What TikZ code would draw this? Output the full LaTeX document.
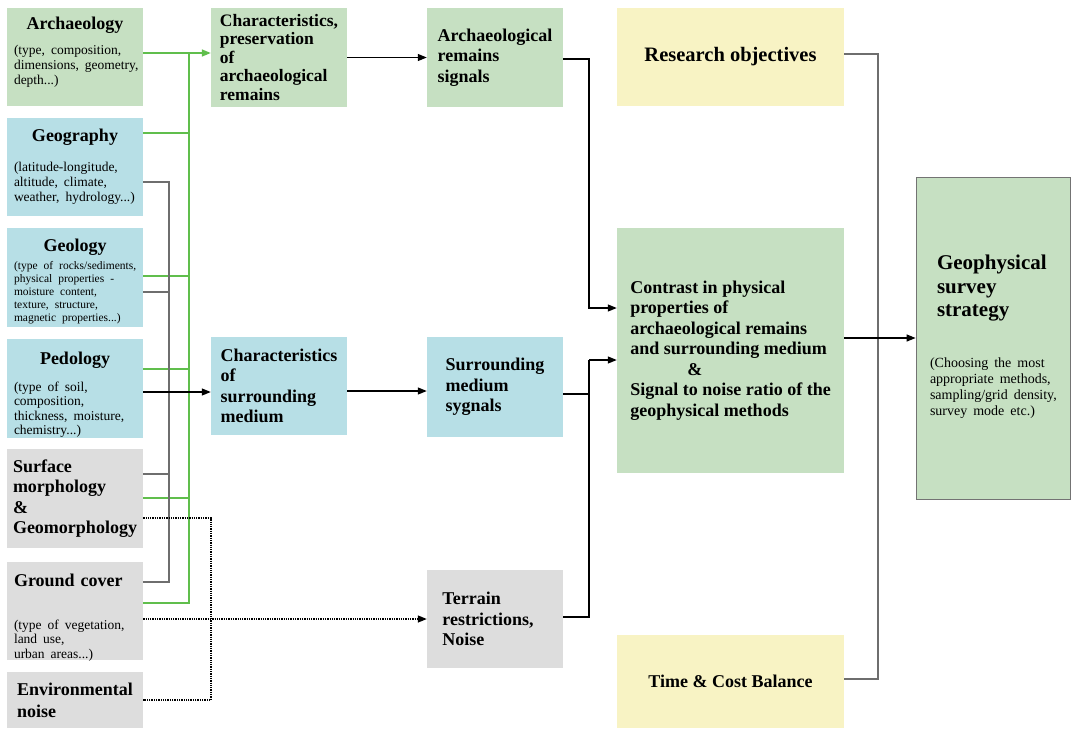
\documentclass[tikz,border=0pt]{standalone}
\usepackage{fontspec}
\setmainfont{Liberation Serif}
\usetikzlibrary{arrows.meta}
\definecolor{boxgreen}{RGB}{198,224,194}
\definecolor{boxblue}{RGB}{183,223,230}
\definecolor{boxgray}{RGB}{221,221,221}
\definecolor{boxyellow}{RGB}{248,243,196}
\definecolor{linegreen}{RGB}{96,190,76}
\definecolor{linegray}{RGB}{110,110,110}
\newcommand{\boxdetail}[3]{{\fontsize{#1}{#2}\selectfont\mdseries\begin{tabular}[t]{@{}l@{}}#3\end{tabular}\par}}

\begin{document}
\begin{tikzpicture}[x=1pt,y=-1pt,
  box/.style={rectangle,inner sep=0pt,align=left,font=\fontsize{18}{20.5}\selectfont\bfseries},
  leftbox/.style={box,minimum width=136pt,minimum height=98pt,text width=122pt,text height=14pt},
  midbox/.style={box,minimum width=136pt,minimum height=98pt},
  gline/.style={draw=linegreen,line width=1.5pt},
  kline/.style={draw=linegray,line width=1.3pt},
  aline/.style={draw=black,line width=1.2pt},
  dline/.style={draw=black,line width=1.3pt,densely dotted},
  arr/.style={-{Triangle[length=9pt,width=7pt]}}]
\useasboundingbox (0,0) rectangle (1071,729);

\node[leftbox,fill=boxgreen,text depth=70pt] (arch) at (75,57) {{\centering Archaeology\par}\vspace{10pt}\boxdetail{13.5}{15}{(type, composition,\\dimensions, geometry,\\depth...)}};
\node[leftbox,fill=boxblue] (geog) at (75,167) {{\centering Geography\par}\vspace{15pt}\boxdetail{13.5}{15}{(latitude-longitude,\\altitude, climate,\\weather, hydrology...)}};
\node[leftbox,fill=boxblue,minimum height=99pt,text depth=67pt] (geol) at (75,277.5) {{\centering Geology\par}\vspace{4pt}\boxdetail{11.5}{13}{(type of rocks/sediments,\\physical properties -\\moisture content,\\texture, structure,\\magnetic properties...)}};
\node[leftbox,fill=boxblue,minimum height=99pt,text depth=63pt] (pedo) at (75,388.5) {{\centering Pedology\par}\vspace{12.5pt}\boxdetail{13.5}{14.5}{(type of soil,\\composition,\\thickness, moisture,\\chemistry...)}};
\node[midbox,fill=boxgray,minimum height=99pt] (surf) at (75,498.5) {Surface\\morphology\\\&\\Geomorphology};
\node[leftbox,fill=boxgray,text depth=64pt] (grnd) at (75,611) {Ground cover\par\vspace{28.5pt}\boxdetail{13.5}{14.5}{(type of vegetation,\\land use,\\urban areas...)}};
\node[midbox,fill=boxgray,minimum height=56pt,font=\fontsize{18}{22}\selectfont\bfseries] (envn) at (75,700) {Environmental\\noise};

\node[midbox,fill=boxgreen,minimum height=99pt,font=\fontsize{17.5}{18.5}\selectfont\bfseries] (pres) at (279,57.5) {Characteristics,\\preservation\\of\\archaeological\\remains};
\node[midbox,fill=boxblue] (surr) at (279,386) {Characteristics\\of\\surrounding\\medium};
\node[midbox,fill=boxgreen,minimum height=99pt] (arsig) at (495,57.5) {Archaeological\\remains\\signals};
\node[midbox,fill=boxblue,minimum height=100pt] (smsig) at (495,387) {Surrounding\\medium\\sygnals};
\node[midbox,fill=boxgray] (terr) at (495,619) {Terrain\\restrictions,\rule{14pt}{0pt}\\Noise};

\node[box,fill=boxyellow,minimum width=227pt,minimum height=98pt,font=\fontsize{20.5}{24}\selectfont\bfseries] (resob) at (730.5,57) {Research objectives};
\node[box,fill=boxgreen,minimum width=227pt,minimum height=245pt] (contr) at (730.5,350.5) {Contrast in physical\\properties of\\archaeological remains\\and surrounding medium\\\hspace*{57pt}\&\\Signal to noise ratio of the\\geophysical methods};
\node[box,fill=boxyellow,minimum width=227pt,minimum height=93pt] (timec) at (730.5,681.5) {Time \& Cost Balance};
\node[box,fill=boxgreen,draw=black!55,line width=0.8pt,minimum width=154pt,minimum height=322pt,text width=126pt] (geo) at (993,338) {{\leftskip=7pt\fontsize{21}{23.5}\selectfont Geophysical\\survey\\strategy\par}\vspace{34pt}\boxdetail{14}{16.3}{(Choosing the most\\appropriate methods,\\sampling/grid density,\\survey mode etc.)}};

\coordinate (gtop) at (189,53);
\coordinate (kbus) at (169,182);
\coordinate (dbus) at (211,518);
\coordinate (rjoin) at (589,360);
\coordinate (rbus) at (878,54);

\draw[gline] (grnd.east |- 0,603) -| (gtop);
\draw[gline] (geog.east |- 0,133) -- (gtop |- 0,133);
\draw[gline] (geol.east |- 0,276) -- (gtop |- 0,276);
\draw[gline] (pedo.east |- 0,369) -- (gtop |- 0,369);
\draw[gline] (surf.east |- 0,498) -- (gtop |- 0,498);
\draw[gline,arr] (arch.east |- gtop) -- (pres.west |- gtop);

\draw[kline] (geog.east |- kbus) -- (kbus) -- (kbus |- 0,582) -- (grnd.east |- 0,582);
\draw[kline] (geol.east |- 0,292) -- (kbus |- 0,292);
\draw[kline] (surf.east |- 0,474) -- (kbus |- 0,474);
\draw[aline,arr] (pedo.east |- 0,392) -- (surr.west |- 0,392);

\draw[dline] (surf.east |- dbus) -- (dbus) |- (envn.east);
\draw[dline,arr] (grnd.east |- terr.west) -- (terr.west);

\draw[aline,arr] (pres.east) -- (arsig.west);
\draw[aline,arr] (surr.east |- 0,391) -- (smsig.west |- 0,391);
\draw[aline,arr] (arsig.east |- 0,59) -| (rjoin |- 0,308) -- (contr.west |- 0,308);
\draw[aline] (smsig.east |- 0,394) -| (rjoin);
\draw[aline] (terr.east |- 0,617) -| (rjoin);
\draw[aline,arr] (rjoin) -- (contr.west |- rjoin);
\draw[kline] (resob.east |- rbus) -- (rbus) |- (timec.east |- 0,679);
\draw[aline,arr] (contr.east |- geo.west) -- (geo.west);
\end{tikzpicture}
\end{document}
